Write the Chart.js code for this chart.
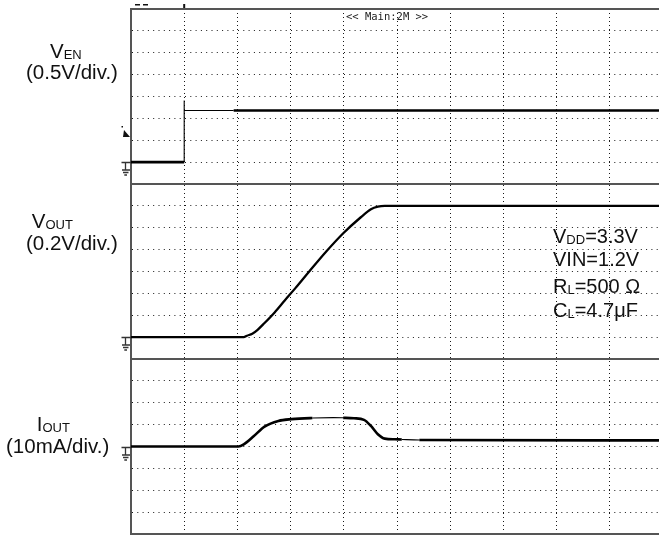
<!DOCTYPE html>
<html>
<head>
<meta charset="utf-8">
<script src="https://cdn.jsdelivr.net/npm/chart.js@4.4.1/dist/chart.umd.min.js"></script>
<style>
  html, body { margin: 0; padding: 0; background: #fff; overflow: hidden; }
  #wrap { position: relative; width: 659px; height: 536px; overflow: hidden; }
  #wrap canvas { position: absolute; left: 0; top: 0; }
  .lbl { position: absolute; font-family: "Liberation Sans", Arial, sans-serif; color: #111; white-space: nowrap; line-height: 1; }
  .big { font-size: 20.5px; }
  .note { font-size: 20px; }
  .sub { font-size: 13px; position: relative; top: 1px; }
  .scope { position: absolute; font-family: "DejaVu Sans Mono", monospace; font-size: 10.5px; line-height: 10.5px; color: #222; white-space: pre; }
</style>
</head>
<body>
<div id="wrap">
  <canvas id="scope" width="680" height="536"></canvas>

  <div class="scope" style="left:346px; top:11px;">&lt;&lt; Main:2M &gt;&gt;</div>

  <div class="lbl big" style="left:50px; top:40.6px;">V<span class="sub">EN</span></div>
  <div class="lbl big" style="left:26px; top:62.1px;">(0.5V/div.)</div>
  <div class="lbl big" style="left:31.7px; top:211.1px;">V<span class="sub">OUT</span></div>
  <div class="lbl big" style="left:26px; top:233.1px;">(0.2V/div.)</div>
  <div class="lbl big" style="left:36.7px; top:413.6px;">I<span class="sub">OUT</span></div>
  <div class="lbl big" style="left:6px; top:435.6px;">(10mA/div.)</div>

  <div class="lbl note" style="left:553px; top:225.6px;">V<span class="sub">DD</span>=3.3V</div>
  <div class="lbl note" style="left:553px; top:249.1px;">VIN=1.2V</div>
  <div class="lbl note" style="left:553px; top:275.6px;">R<span class="sub">L</span>=500 Ω</div>
  <div class="lbl note" style="left:553px; top:300.1px;">C<span class="sub">L</span>=4.7μF</div>
</div>

<script>
// time in screen divisions (10 div across)
const venTime = [0, 1.0, 1.0, 1.0, 1.93, 10];
const venVolt = [0, 0, 1.41, 1.18, 1.18, 1.18];

const voutTime = [0, 2.12, 2.18, 2.28, 2.38, 2.51, 2.70, 2.89, 3.09, 3.35, 3.67, 3.99, 4.32, 4.51, 4.64, 4.77, 10];
const voutVolt = [0, 0, 0.013, 0.031, 0.067, 0.129, 0.226, 0.335, 0.448, 0.60, 0.783, 0.95, 1.096, 1.169, 1.193, 1.2, 1.2];

const ioutTime = [0, 2.02, 2.12, 2.31, 2.51, 2.77, 3.02, 3.41, 3.80, 3.99, 4.19, 4.38, 4.51, 4.64, 4.77, 4.96, 5.09, 5.42, 10];
const ioutMa = [0, 0, 1.0, 4.8, 9.1, 11.7, 12.5, 13.0, 13.2, 13.1, 12.9, 12.2, 9.4, 5.6, 3.6, 3.3, 3.2, 3.0, 2.8];

const frame = '#555';
const dots = 'rgba(0,0,0,0.9)';
const thick = 2.6;
const thin = 1.1;

const toPoints = (xs, ys) => xs.map((x, i) => ({x: x, y: ys[i]}));

function yAxis(min, max, step) {
  return {
    type: 'linear',
    position: 'left',
    stack: 'scope',
    stackWeight: 1,
    min: min,
    max: max,
    ticks: {display: false, stepSize: step},
    grid: {color: dots, lineWidth: 1, drawTicks: false},
    border: {color: frame, width: 2, dash: [1, 4.3]},
    afterFit: s => { s.width = 0; }
  };
}

// panel frame lines, ground symbols, trigger marks
const scopeMarks = {
  id: 'scopeMarks',
  beforeDatasetsDraw(chart) {
    const {ctx, chartArea} = chart;
    ctx.save();
    ctx.strokeStyle = frame;
    ctx.lineWidth = 2;
    [chartArea.top, chart.scales.yVout.top, chart.scales.yIout.top].forEach(y => {
      ctx.beginPath();
      ctx.moveTo(chartArea.left - 1, Math.round(y));
      ctx.lineTo(chartArea.right, Math.round(y));
      ctx.stroke();
    });
    ctx.restore();
  },
  afterDraw(chart) {
    const ctx = chart.ctx;
    ctx.save();
    ctx.strokeStyle = '#333';
    ctx.lineWidth = 1.3;
    ['yVen', 'yVout', 'yIout'].forEach(id => {
      const y0 = Math.round(chart.scales[id].getPixelForValue(0)) + 0.5;
      ctx.beginPath();
      ctx.moveTo(121.5, y0); ctx.lineTo(131, y0);
      ctx.moveTo(125.5, y0); ctx.lineTo(125.5, y0 + 7.5);
      ctx.moveTo(122, y0 + 7.5); ctx.lineTo(130, y0 + 7.5);
      ctx.moveTo(123, y0 + 10); ctx.lineTo(128.5, y0 + 10);
      ctx.moveTo(124.3, y0 + 12.5); ctx.lineTo(127, y0 + 12.5);
      ctx.stroke();
    });
    // trigger level arrow
    ctx.fillStyle = '#111';
    ctx.beginPath();
    ctx.moveTo(124, 130); ctx.lineTo(130, 137); ctx.lineTo(123, 137);
    ctx.closePath();
    ctx.fill();
    ctx.fillRect(121.5, 126, 1.5, 1.5);
    // top-left marks and trigger position
    const xt = chart.scales.x.getPixelForValue(1);
    ctx.fillRect(135, 4, 5, 1.5);
    ctx.fillRect(143, 4, 5, 1.5);
    ctx.fillRect(xt - 1, 4, 2, 4);
    ctx.restore();
  }
};

new Chart(document.getElementById('scope'), {
  type: 'line',
  data: {
    datasets: [
      {
        data: toPoints(venTime, venVolt),
        yAxisID: 'yVen',
        borderColor: '#000',
        borderWidth: thick,
        pointRadius: 0,
        tension: 0,
        segment: {
          borderWidth: c => (c.p0.parsed.x >= 1 && c.p1.parsed.x <= 1.93) ? thin : thick
        }
      },
      {
        data: toPoints(voutTime, voutVolt),
        yAxisID: 'yVout',
        borderColor: '#000',
        borderWidth: 2.3,
        pointRadius: 0,
        cubicInterpolationMode: 'monotone'
      },
      {
        data: toPoints(ioutTime, ioutMa),
        yAxisID: 'yIout',
        borderColor: '#000',
        borderWidth: thick,
        pointRadius: 0,
        cubicInterpolationMode: 'monotone',
        segment: {
          borderWidth: c => {
            const a = c.p0.parsed.x, b = c.p1.parsed.x;
            if ((a >= 3.41 && b <= 3.99) || (a >= 5.09 && b <= 5.42)) return thin;
            return thick;
          }
        }
      }
    ]
  },
  options: {
    responsive: false,
    animation: false,
    devicePixelRatio: 1,
    layout: {padding: {left: 131, top: 9, right: 17, bottom: 2}},
    plugins: {legend: {display: false}, tooltip: {enabled: false}},
    scales: {
      x: {
        type: 'linear',
        min: 0,
        max: 10,
        ticks: {display: false, stepSize: 1},
        grid: {color: dots, lineWidth: 1, drawTicks: false},
        border: {color: frame, width: 2, dash: [1, 3]},
        afterFit: s => { s.height = 0; }
      },
      yIout: yAxis(-40, 40, 10),
      yVout: yAxis(-0.2, 1.4, 0.2),
      yVen: yAxis(-0.5, 3.5, 0.5)
    }
  },
  plugins: [scopeMarks]
});
</script>
</body>
</html>
